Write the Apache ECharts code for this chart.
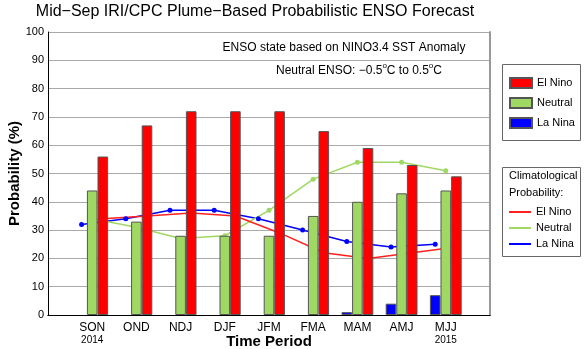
<!DOCTYPE html>
<html>
<head>
<meta charset="utf-8">
<script src="https://cdn.jsdelivr.net/npm/echarts@6/dist/echarts.min.js"></script>
<style>html,body{margin:0;padding:0;background:#fff;}#c{width:585px;height:349px;}</style>
</head>
<body>
<div id="c"></div>
<script>
const categories = ['SON','OND','NDJ','DJF','JFM','FMA','MAM','AMJ','MJJ'];
const years = ['2014','','','','','','','','2015'];
const elNino = [56,67,72,72,72,65,59,53,49];
const neutral = [44,33,28,28,28,35,40,43,44];
const laNina = [0,0,0,0,0,0,1,4,7];
const climElNino = [34,35,36,35,29,22,20,22,24];
const climNeutral = [34,31,27,28,37,48,54,54,51];
const climLaNina = [32,34,37,37,34,30,26,24,25];
const yMin = 0, yMax = 100, yStep = 10;

const FONT = 'Liberation Sans, Arial, Helvetica, sans-serif';
const RED = '#ff0000', GREEN = '#a0d864', BLUE = '#0000ff';
const bw = 10.6;
const gL = 48, gR = 95, gT = 32, gB = 34;

const pad = a => [null].concat(a, [null]);
const cats = pad(categories).map(v => v === null ? '' : v);
const yrs = pad(years).map(v => v === null ? '' : v);
const noZero = a => a.map(v => v === 0 ? null : v);

const hiddenX = gi => ({type:'category', gridIndex:gi, data:cats, boundaryGap:false, show:false});
const hiddenY = gi => ({type:'value', gridIndex:gi, min:yMin, max:yMax, show:false});
const mkGrid = (l, r) => ({left:l, right:r, top:gT, bottom:gB, containLabel:false, outerBoundsMode:'none'});

// superscript text pieces measured with canvas
const mctx = document.createElement('canvas').getContext('2d');
const pieces = [['Neutral ENSO: \u22120.5',12,0],['o',8,-5],['C to 0.5',12,0],['o',8,-5],['C',12,0]];
let widths = pieces.map(p => { mctx.font = p[1]+'px '+FONT; return mctx.measureText(p[0]).width; });
const total = widths.reduce((a,b)=>a+b,0);
let px = 359 - total/2;
const supGraphics = pieces.map((p,i) => {
  const g = {type:'text', x:px, y:71 + p[2], style:{text:p[0], fill:'#000', font:p[1]+'px '+FONT,
    textAlign:'left', textVerticalAlign:'middle'}};
  px += widths[i];
  return g;
});

const chart = echarts.init(document.getElementById('c'), null, {renderer:'canvas'});
chart.setOption({
  animation:false,
  textStyle:{fontFamily:FONT},
  grid:[ mkGrid(gL, gR), mkGrid(gL-bw, gR+bw), mkGrid(gL+bw, gR-bw) ],
  xAxis:[
    {type:'category', gridIndex:0, data:cats, boundaryGap:false,
     axisLine:{lineStyle:{color:'#000', width:1}}, axisTick:{show:false},
     axisLabel:{interval:0, margin:6, color:'#000', fontSize:12, lineHeight:13, fontFamily:FONT,
       formatter:(v,i)=> v + (yrs[i] ? '\n{yr|'+yrs[i]+'}' : ''),
       rich:{yr:{fontSize:10, lineHeight:13, color:'#000', fontFamily:FONT}}},
     name:'Time Period', nameLocation:'middle', nameGap:19, nameMoveOverlap:false,
     nameTextStyle:{fontSize:15, fontWeight:'bold', color:'#000', fontFamily:FONT},
     splitLine:{show:false}},
    {type:'category', gridIndex:0, position:'top', data:cats, boundaryGap:false,
     axisLine:{lineStyle:{color:'#000', width:1}}, axisTick:{show:false}, axisLabel:{show:false}},
    hiddenX(1), hiddenX(2)
  ],
  yAxis:[
    {type:'value', gridIndex:0, min:yMin, max:yMax, interval:yStep,
     axisLine:{show:true, lineStyle:{color:'#000', width:1}}, axisTick:{show:false},
     axisLabel:{margin:4, color:'#000', fontSize:11, fontFamily:FONT},
     splitLine:{show:true, lineStyle:{color:'#aaaaaa', width:1}},
     name:'Probability (%)', nameLocation:'middle', nameGap:26, nameMoveOverlap:false,
     nameTextStyle:{fontSize:15, fontWeight:'bold', color:'#000', fontFamily:FONT}},
    {type:'value', gridIndex:0, position:'right', min:yMin, max:yMax,
     axisLine:{show:true, lineStyle:{color:'#999', width:2}}, axisTick:{show:false},
     axisLabel:{show:false}, splitLine:{show:false}},
    hiddenY(1), hiddenY(2)
  ],
  legend:[
    {orient:'vertical', left:509, top:77, padding:0, itemWidth:22, itemHeight:10, itemGap:8, icon:'rect',
     data:['El Nino','Neutral','La Nina'],
     textStyle:{fontSize:11, lineHeight:12, color:'#000', fontFamily:FONT}},
    {orient:'vertical', left:509, top:206, padding:0, itemWidth:22, itemHeight:2, itemGap:4, icon:'rect',
     data:['El Nino ','Neutral ','La Nina '],
     formatter:n=>n.trim(),
     textStyle:{fontSize:11, lineHeight:12, color:'#000', fontFamily:FONT}}
  ],
  graphic:[
    {type:'text', x:255, y:12, style:{text:'Mid\u2212Sep IRI/CPC Plume\u2212Based Probabilistic ENSO Forecast',
      fill:'#000', font:'16px '+FONT, textAlign:'center', textVerticalAlign:'middle'}},
    {type:'text', x:344, y:48, style:{text:'ENSO state based on NINO3.4 SST Anomaly',
      fill:'#000', font:'12px '+FONT, textAlign:'center', textVerticalAlign:'middle'}},
    {type:'rect', shape:{x:502.5, y:64.5, width:78, height:76}, style:{fill:'none', stroke:'#666', lineWidth:1}},
    {type:'rect', shape:{x:502.5, y:167.5, width:78, height:89}, style:{fill:'none', stroke:'#666', lineWidth:1}},
    {type:'text', x:509, y:176, style:{text:'Climatological', fill:'#000', font:'11px '+FONT, textVerticalAlign:'middle'}},
    {type:'text', x:509, y:193, style:{text:'Probability:', fill:'#000', font:'11px '+FONT, textVerticalAlign:'middle'}}
  ].concat(supGraphics),
  series:[
    {name:'La Nina', type:'bar', xAxisIndex:0, yAxisIndex:0, data:noZero(pad(laNina)), barWidth:bw, barGap:'0%', z:3,
     itemStyle:{color:BLUE, borderColor:'#555', borderWidth:1}},
    {name:'Neutral', type:'bar', xAxisIndex:0, yAxisIndex:0, data:pad(neutral), barWidth:bw, barGap:'0%', z:3,
     itemStyle:{color:GREEN, borderColor:'#555', borderWidth:1}},
    {name:'El Nino', type:'bar', xAxisIndex:0, yAxisIndex:0, data:pad(elNino), barWidth:bw, barGap:'0%', z:3,
     itemStyle:{color:RED, borderColor:'#555', borderWidth:1}},
    {name:'La Nina ', type:'line', xAxisIndex:2, yAxisIndex:2, data:pad(climLaNina), z:2,
     symbol:'circle', symbolSize:5, showSymbol:true, lineStyle:{color:BLUE, width:1.5}, itemStyle:{color:BLUE}},
    {name:'Neutral ', type:'line', xAxisIndex:0, yAxisIndex:0, data:pad(climNeutral), z:2,
     symbol:'circle', symbolSize:5, lineStyle:{color:GREEN, width:1.5}, itemStyle:{color:GREEN}},
    {name:'El Nino ', type:'line', xAxisIndex:3, yAxisIndex:3, data:pad(climElNino), z:2,
     symbol:'circle', symbolSize:5, lineStyle:{color:'#ff2020', width:1.5}, itemStyle:{color:'#ff2020'}}
  ]
});
</script>
</body>
</html>
